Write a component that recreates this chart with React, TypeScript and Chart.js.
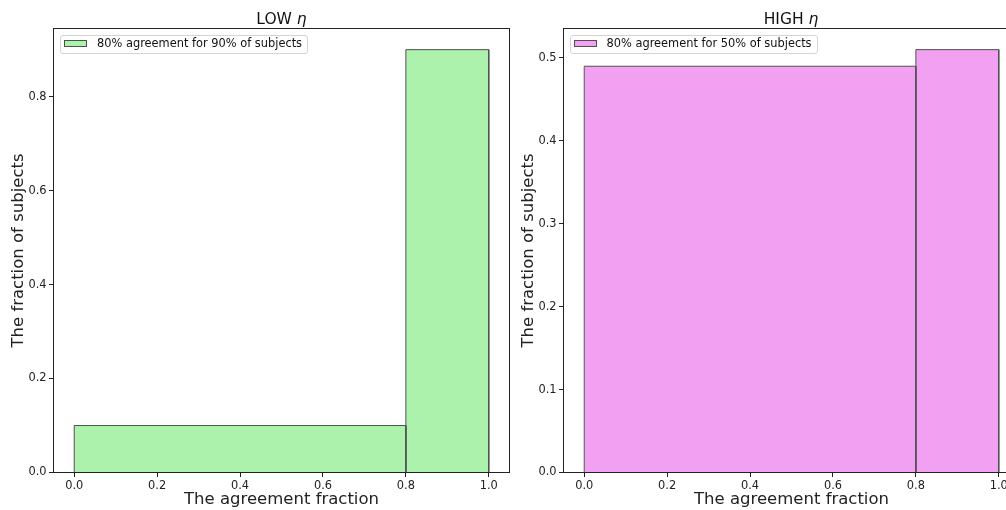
import React, { useEffect, useRef } from "react";
import { Chart, registerables } from "chart.js";

Chart.register(...registerables);

// ---- data ----
const binEdges = [0.0, 0.8, 1.0];
const lowEtaFractions = [0.1, 0.9];
const highEtaFractions = [0.49, 0.51];
const xTickValues = [0.0, 0.2, 0.4, 0.6, 0.8, 1.0];
const lowEtaYTicks = [0.0, 0.2, 0.4, 0.6, 0.8];
const highEtaYTicks = [0.0, 0.1, 0.2, 0.3, 0.4, 0.5];
const panelTitles = ["LOW", "HIGH"];
const legendLabels = [
  "80% agreement for 90% of subjects",
  "80% agreement for 50% of subjects",
];
const xAxisLabel = "The agreement fraction";
const yAxisLabel = "The fraction of subjects";

// ---- style ----
const FONT = "'DejaVu Sans', sans-serif";
const INK = "#222";
const EDGE = "#505050";
const GREEN = "rgb(172,242,172)";
const VIOLET = "rgb(242,161,242)";
const CANVAS_W = 520;
const CANVAS_H = 510;

const framePlugin = {
  id: "frame",
  afterDraw(chart: any) {
    const { ctx, chartArea } = chart;
    const { left, top, right, bottom } = chartArea;
    ctx.save();
    ctx.strokeStyle = INK;
    ctx.lineWidth = 1;
    ctx.strokeRect(left, top, right - left, bottom - top);
    ctx.restore();
  },
};

type PanelProps = {
  x: number;
  edges: number[];
  values: number[];
  yTicks: number[];
  color: string;
  title: string;
  legend: string;
};

function Panel({ x, edges, values, yTicks, color, title, legend }: PanelProps) {
  const ref = useRef<HTMLCanvasElement | null>(null);

  useEffect(() => {
    if (!ref.current) return;
    const yMax = Math.max(...values) * 1.05;
    const tickFont = { family: FONT, size: 11.4 };
    const labelFont = { family: FONT, size: 16.5 };
    const chart = new Chart(ref.current, {
      type: "line",
      data: {
        datasets: values.map((v, i) => ({
          data: [
            { x: edges[i], y: 0 },
            { x: edges[i], y: v },
            { x: edges[i + 1], y: v },
            { x: edges[i + 1], y: 0 },
          ],
          fill: "origin",
          backgroundColor: color,
          borderColor: EDGE,
          borderWidth: 1,
          pointRadius: 0,
          tension: 0,
        })),
      },
      options: {
        responsive: false,
        animation: false,
        layout: { padding: { left: 0, right: 10.5, top: 28.5, bottom: 0 } },
        plugins: {
          legend: { display: false },
          title: { display: false },
          tooltip: { enabled: false },
        },
        scales: {
          x: {
            type: "linear",
            min: -0.05,
            max: 1.05,
            afterBuildTicks: (s: any) => {
              s.ticks = xTickValues.map((v) => ({ value: v }));
            },
            afterFit: (s: any) => {
              s.height = 37.5;
            },
            ticks: {
              callback: (v: any) => Number(v).toFixed(1),
              font: tickFont,
              color: INK,
              padding: 2.5,
              maxRotation: 0,
              autoSkip: false,
            },
            grid: {
              display: true,
              drawOnChartArea: false,
              drawTicks: true,
              tickLength: 4.5,
              tickColor: INK,
            },
            border: { display: true, color: INK },
            title: {
              display: true,
              text: xAxisLabel,
              font: labelFont,
              color: INK,
              padding: { top: 0, bottom: 0 },
            },
          },
          y: {
            type: "linear",
            min: 0,
            max: yMax,
            afterBuildTicks: (s: any) => {
              s.ticks = yTicks.map((v) => ({ value: v }));
            },
            afterFit: (s: any) => {
              s.width = 53.5;
            },
            ticks: {
              callback: (v: any) => Number(v).toFixed(1),
              font: tickFont,
              color: INK,
              padding: 2.5,
              autoSkip: false,
            },
            grid: {
              display: true,
              drawOnChartArea: false,
              drawTicks: true,
              tickLength: 4.5,
              tickColor: INK,
            },
            border: { display: true, color: INK },
            title: {
              display: true,
              text: yAxisLabel,
              font: labelFont,
              color: INK,
              padding: { top: 8.5, bottom: 0 },
            },
          },
        },
      } as any,
      plugins: [framePlugin],
    });
    return () => chart.destroy();
  }, [edges, values, yTicks, color]);

  return (
    <>
      <canvas
        ref={ref}
        width={CANVAS_W}
        height={CANVAS_H}
        style={{ position: "absolute", left: x, top: 0, width: CANVAS_W, height: CANVAS_H }}
      />
      <div
        style={{
          position: "absolute",
          left: x + 53.5,
          width: 456,
          top: 10,
          height: 18,
          lineHeight: "18px",
          textAlign: "center",
          fontFamily: FONT,
          fontSize: 15.5,
          color: "#111",
          whiteSpace: "nowrap",
        }}
      >
        {title} <i>η</i>
      </div>
      <div
        style={{
          position: "absolute",
          left: x + 60,
          top: 35,
          width: 248,
          height: 19,
          boxSizing: "border-box",
          border: "1px solid #d4d4d4",
          borderRadius: 3,
          background: "rgba(255,255,255,0.85)",
          fontFamily: FONT,
          fontSize: 11.4,
          color: "#111",
        }}
      >
        <div
          style={{
            position: "absolute",
            left: 3,
            top: 4,
            width: 23,
            height: 7,
            boxSizing: "border-box",
            border: `1px solid ${EDGE}`,
            background: color,
          }}
        />
        <span
          style={{
            position: "absolute",
            left: 36,
            top: 0,
            lineHeight: "normal",
            whiteSpace: "nowrap",
          }}
        >
          {legend}
        </span>
      </div>
    </>
  );
}

export default function App() {
  return (
    <div
      style={{
        position: "fixed",
        left: 0,
        top: 0,
        width: 1006,
        height: 510,
        overflow: "hidden",
        background: "#fff",
      }}
    >
      <Panel
        x={0}
        edges={binEdges}
        values={lowEtaFractions}
        yTicks={lowEtaYTicks}
        color={GREEN}
        title={panelTitles[0]}
        legend={legendLabels[0]}
      />
      <Panel
        x={509.5}
        edges={binEdges}
        values={highEtaFractions}
        yTicks={highEtaYTicks}
        color={VIOLET}
        title={panelTitles[1]}
        legend={legendLabels[1]}
      />
    </div>
  );
}
